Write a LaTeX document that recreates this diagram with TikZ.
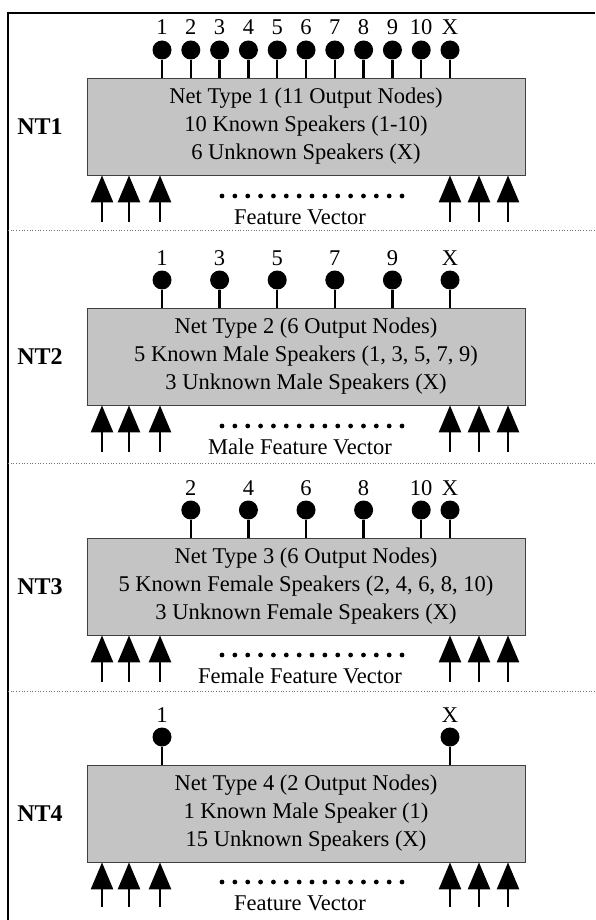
\documentclass[tikz,border=0pt]{standalone}
\usepackage{fontspec}
\setmainfont{Liberation Serif}
\usetikzlibrary{arrows.meta, positioning, calc}
\definecolor{netgray}{HTML}{C4C4C4}

\begin{document}
\begin{tikzpicture}[
  x=1pt, y=-1pt,
  font=\fontsize{22.5}{28}\selectfont,
  net/.style={rectangle, draw=black!75, line width=0.8pt, fill=netgray,
              minimum width=438pt, minimum height=97pt, align=center, inner sep=0pt},
  outnode/.style={circle, fill=black, inner sep=0pt, minimum size=19pt},
  num/.style={anchor=base, inner sep=0pt},
  stem/.style={line width=2.4pt},
  inarrow/.style={-{Triangle[length=27pt, width=22pt]}, line width=2.6pt},
  tag/.style={font=\fontsize{24}{28}\selectfont\bfseries},
  sep/.style={dotted, black!55, line width=0.7pt},
]
  \useasboundingbox (0,0) rectangle (595,920);
  \draw[line width=1.4pt] (8,920) -- (8,13) -- (595,13);
  \draw[sep] (8,230) -- (595,230);
  \draw[sep] (8,463) -- (595,463);
  \draw[sep] (8,691) -- (595,691);

  % NT1
  \node[net] (nt1) at (306,126.5) {Net Type 1 (11 Output Nodes)\\10 Known Speakers (1-10)\\6 Unknown Speakers (X)};
  \node[tag] (tag1) at (40,126.5) {NT1};
  \foreach \k in {1,...,10} {
    \node[outnode] (p1o\k) at ({162+28.8*(\k-1)},50) {};
    \node[num] (p1n\k) at ({162+28.8*(\k-1)},35) {\k};
    \draw[stem] (p1o\k) -- (p1o\k |- nt1.north);
  }
  \node[outnode] (p1oX) at (450,50) {};
  \node[num] (p1nX) at (450,35) {X};
  \draw[stem] (p1oX) -- (p1oX |- nt1.north);
  \foreach \x in {102,129,160,450,479,508} {
    \coordinate (p1i\x) at (\x,222);
    \draw[inarrow] (p1i\x) -- (p1i\x |- nt1.south);
  }
  \foreach \i in {0,...,14} \fill ({222+12.86*\i},196) circle (2.4);
  \node (cap1) at (300,217) {Feature Vector};

  % NT2
  \node[net] (nt2) at (306,356.5) {Net Type 2 (6 Output Nodes)\\5 Known Male Speakers (1, 3, 5, 7, 9)\\3 Unknown Male Speakers (X)};
  \node[tag] (tag2) at (40,356.5) {NT2};
  \foreach \k in {1,3,5,7,9} {
    \node[outnode] (p2o\k) at ({162+28.8*(\k-1)},280) {};
    \node[num] (p2n\k) at ({162+28.8*(\k-1)},265) {\k};
    \draw[stem] (p2o\k) -- (p2o\k |- nt2.north);
  }
  \node[outnode] (p2oX) at (450,280) {};
  \node[num] (p2nX) at (450,265) {X};
  \draw[stem] (p2oX) -- (p2oX |- nt2.north);
  \foreach \x in {102,129,160,450,479,508} {
    \coordinate (p2i\x) at (\x,452);
    \draw[inarrow] (p2i\x) -- (p2i\x |- nt2.south);
  }
  \foreach \i in {0,...,14} \fill ({222+12.86*\i},426) circle (2.4);
  \node (cap2) at (300,447) {Male Feature Vector};

  % NT3
  \node[net] (nt3) at (306,586.5) {Net Type 3 (6 Output Nodes)\\5 Known Female Speakers (2, 4, 6, 8, 10)\\3 Unknown Female Speakers (X)};
  \node[tag] (tag3) at (40,586.5) {NT3};
  \foreach \k in {2,4,6,8,10} {
    \node[outnode] (p3o\k) at ({162+28.8*(\k-1)},510) {};
    \node[num] (p3n\k) at ({162+28.8*(\k-1)},495) {\k};
    \draw[stem] (p3o\k) -- (p3o\k |- nt3.north);
  }
  \node[outnode] (p3oX) at (450,510) {};
  \node[num] (p3nX) at (450,495) {X};
  \draw[stem] (p3oX) -- (p3oX |- nt3.north);
  \foreach \x in {102,129,160,450,479,508} {
    \coordinate (p3i\x) at (\x,682);
    \draw[inarrow] (p3i\x) -- (p3i\x |- nt3.south);
  }
  \foreach \i in {0,...,14} \fill ({222+12.86*\i},655) circle (2.4);
  \node (cap3) at (300,676) {Female Feature Vector};

  % NT4
  \node[net] (nt4) at (306,813.5) {Net Type 4 (2 Output Nodes)\\1 Known Male Speaker (1)\\15 Unknown Speakers (X)};
  \node[tag] (tag4) at (40,813.5) {NT4};
  \node[outnode] (p4o1) at (162,737) {};
  \node[num] (p4n1) at (162,722) {1};
  \draw[stem] (p4o1) -- (p4o1 |- nt4.north);
  \node[outnode] (p4oX) at (450,737) {};
  \node[num] (p4nX) at (450,722) {X};
  \draw[stem] (p4oX) -- (p4oX |- nt4.north);
  \foreach \x in {102,129,160,450,479,508} {
    \coordinate (p4i\x) at (\x,907);
    \draw[inarrow] (p4i\x) -- (p4i\x |- nt4.south);
  }
  \foreach \i in {0,...,14} \fill ({222+12.86*\i},882) circle (2.4);
  \node (cap4) at (300,903) {Feature Vector};
\end{tikzpicture}
\end{document}
